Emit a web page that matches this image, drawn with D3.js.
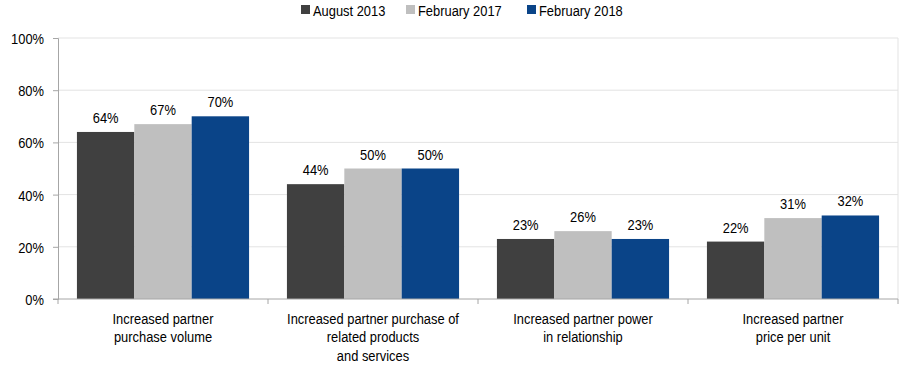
<!DOCTYPE html>
<html>
<head>
<meta charset="utf-8">
<script src="https://cdn.jsdelivr.net/npm/d3@7"></script>
<style>
  body { margin: 0; background: #fff; }
  text { font-family: "Liberation Sans", Arial, sans-serif; fill: #000; }
</style>
</head>
<body>
<svg id="chart" width="905" height="366"></svg>
<script>
var categories = [
  ["Increased partner", "purchase volume"],
  ["Increased partner purchase of", "related products", "and services"],
  ["Increased partner power", "in relationship"],
  ["Increased partner", "price per unit"]
];
var seriesNames = ["August 2013", "February 2017", "February 2018"];
var seriesColors = ["#404040", "#bfbfbf", "#0a4488"];
var aug2013 = [64, 44, 23, 22];
var feb2017 = [67, 50, 26, 31];
var feb2018 = [70, 50, 23, 32];
var yTicks = [0, 20, 40, 60, 80, 100];

var seriesValues = [aug2013, feb2017, feb2018];

var svg = d3.select("#chart");
var plotLeft = 58, plotRight = 898, plotTop = 38, plotBottom = 299;
var narrow = " scale(0.86,1)";   // the source font is a condensed Arial

var place = function(x, y) { return "translate(" + x + "," + y + ")" + narrow; };

var x0 = d3.scaleBand()
  .domain(d3.range(categories.length))
  .range([plotLeft, plotRight])
  .paddingInner(0)
  .paddingOuter(0);

var x1 = d3.scaleBand()
  .domain(d3.range(seriesNames.length))
  .range([0, x0.bandwidth()])
  .paddingOuter(0.33)
  .paddingInner(0);

var y = d3.scaleLinear().domain([0, 100]).range([plotBottom, plotTop]);

// grid lines
svg.append("g").selectAll("line")
  .data(yTicks.slice(1))
  .enter().append("line")
  .attr("x1", plotLeft).attr("x2", plotRight)
  .attr("y1", function(d) { return y(d); })
  .attr("y2", function(d) { return y(d); })
  .attr("stroke", "#e3e3e3")
  .attr("stroke-width", 1);

// right frame
svg.append("line")
  .attr("x1", plotRight).attr("x2", plotRight)
  .attr("y1", plotTop).attr("y2", plotBottom)
  .attr("stroke", "#e3e3e3");

// bars
var groups = svg.append("g").selectAll("g")
  .data(categories)
  .enter().append("g")
  .attr("transform", function(d, i) { return "translate(" + x0(i) + ",0)"; });

var cells = function(d, i) {
  return seriesValues.map(function(s, j) { return {s: j, v: s[i]}; });
};

groups.selectAll("rect")
  .data(cells)
  .enter().append("rect")
  .attr("x", function(d) { return x1(d.s); })
  .attr("width", x1.bandwidth())
  .attr("y", function(d) { return y(d.v); })
  .attr("height", function(d) { return plotBottom - y(d.v); })
  .attr("fill", function(d) { return seriesColors[d.s]; });

groups.selectAll("text.val")
  .data(cells)
  .enter().append("text")
  .attr("class", "val")
  .attr("transform", function(d) { return place(x1(d.s) + x1.bandwidth() / 2, y(d.v) - 9); })
  .attr("text-anchor", "middle")
  .style("font-size", "15px")
  .text(function(d) { return d.v + "%"; });

// y axis
var yAxis = d3.axisLeft(y)
  .tickValues(yTicks)
  .tickSize(5)
  .tickFormat(function(d) { return d + "%"; });

var yg = svg.append("g")
  .attr("transform", "translate(" + plotLeft + ",0)")
  .call(yAxis);
yg.select(".domain").attr("stroke", "#a6a6a6");
yg.selectAll(".tick line").attr("stroke", "#a6a6a6");
yg.selectAll(".tick text")
  .attr("x", 0)
  .attr("dy", "0.36em")
  .attr("transform", place(-14, 0))
  .style("font-size", "15px")
  .style("font-family", "Liberation Sans, Arial, sans-serif")
  .attr("fill", "#000");

// x axis
var xg = svg.append("g")
  .attr("transform", "translate(0," + plotBottom + ")");
xg.append("line")
  .attr("x1", plotLeft - 5).attr("x2", plotRight)
  .attr("y1", 0).attr("y2", 0)
  .attr("stroke", "#a6a6a6");
xg.selectAll("line.tk")
  .data(d3.range(categories.length + 1))
  .enter().append("line")
  .attr("class", "tk")
  .attr("x1", function(i) { return i < categories.length ? x0(i) : plotRight; })
  .attr("x2", function(i) { return i < categories.length ? x0(i) : plotRight; })
  .attr("y1", 0).attr("y2", 5)
  .attr("stroke", "#a6a6a6");

xg.selectAll("text.cat")
  .data(categories)
  .enter().append("text")
  .attr("class", "cat")
  .attr("text-anchor", "middle")
  .style("font-size", "15px")
  .attr("transform", function(d, i) { return place(x0(i) + x0.bandwidth() / 2, 24.5); })
  .selectAll("tspan")
  .data(function(d) { return d; })
  .enter().append("tspan")
  .attr("x", 0)
  .attr("dy", function(d, i) { return i === 0 ? 0 : 19; })
  .text(function(d) { return d; });

// legend
var legendX = [301, 406, 527];
var legend = svg.append("g").selectAll("g")
  .data(seriesNames)
  .enter().append("g")
  .attr("transform", function(d, i) { return "translate(" + legendX[i] + ",5)"; });
legend.append("rect")
  .attr("width", 9).attr("height", 9)
  .attr("fill", function(d, i) { return seriesColors[i]; });
legend.append("text")
  .attr("transform", place(12, 10.5))
  .style("font-size", "15px")
  .text(function(d) { return d; });
</script>
</body>
</html>
